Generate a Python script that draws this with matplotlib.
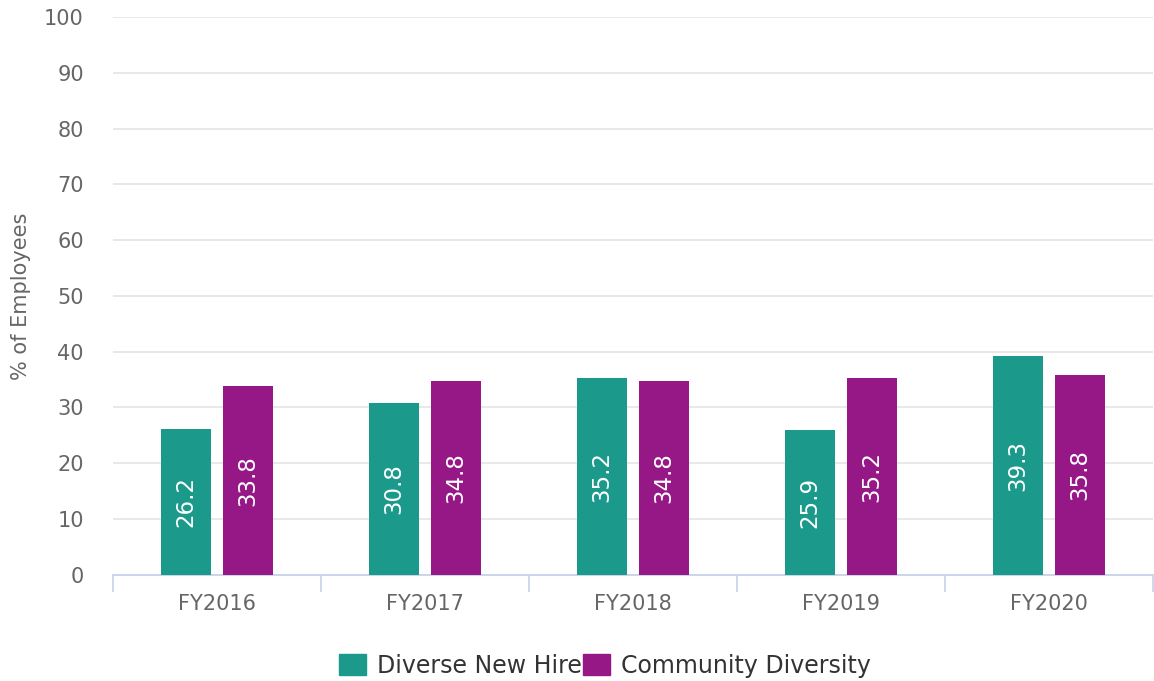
import numpy as np
import matplotlib.pyplot as plt
from matplotlib.patches import Patch

# data
years = ["FY2016", "FY2017", "FY2018", "FY2019", "FY2020"]
new_hire = [26.2, 30.8, 35.2, 25.9, 39.3]
community = [33.8, 34.8, 34.8, 35.2, 35.8]

green = "#1b9a8b"
purple = "#961887"

plt.rcParams['font.family'] = ['DejaVu Sans']

fig = plt.figure(figsize=(11.54, 6.81), dpi=100)
ax = fig.add_axes([0.098, 0.156, 0.901, 0.819])

x = np.arange(len(years))
w = 0.24
b1 = ax.bar(x - 0.148, new_hire, w, color=green, zorder=3)
b2 = ax.bar(x + 0.150, community, w, color=purple, zorder=3)

for bars, vals in ((b1, new_hire), (b2, community)):
    for r, v in zip(bars, vals):
        ax.text(r.get_x() + r.get_width() / 2, v / 2, f"{v:.1f}",
                rotation=90, ha="center", va="center", color="white",
                fontsize=16.5, zorder=4)

ax.set_xlim(-0.5, len(years) - 0.5)
ax.set_ylim(0, 100)
ax.set_yticks(np.arange(0, 101, 10))
ax.yaxis.grid(True, color="#e6e6e6", linewidth=1.3, zorder=0)
ax.set_axisbelow(True)

ax.set_xticks(x)
ax.set_xticklabels(years)
ax.set_xticks(np.arange(-0.5, len(years), 1.0), minor=True)
ax.tick_params(axis="x", which="major", length=0, pad=14, labelsize=15, labelcolor="#666666")
ax.tick_params(axis="x", which="minor", length=12.5, width=1.3, color="#ccd6eb")
ax.tick_params(axis="y", length=0, pad=21, labelsize=15, labelcolor="#666666")

for s in ["top", "right", "left"]:
    ax.spines[s].set_visible(False)
ax.spines["bottom"].set_color("#ccd6eb")
ax.spines["bottom"].set_linewidth(1.5)

ax.set_ylabel("% of Employees", fontsize=15, color="#666666")
ax.yaxis.set_label_coords(-0.079, 0.5)

handles = [Patch(color=green), Patch(color=purple)]
fig.legend(handles, ["Diverse New Hire", "Community Diversity"], loc="center",
           bbox_to_anchor=(0.524, 0.022), ncol=2, frameon=False,
           fontsize=17, handlelength=1.15, handleheight=1.0, handletextpad=0.45,
           columnspacing=0.05, labelcolor="#333333")

fig.savefig("out.png", dpi=100)
